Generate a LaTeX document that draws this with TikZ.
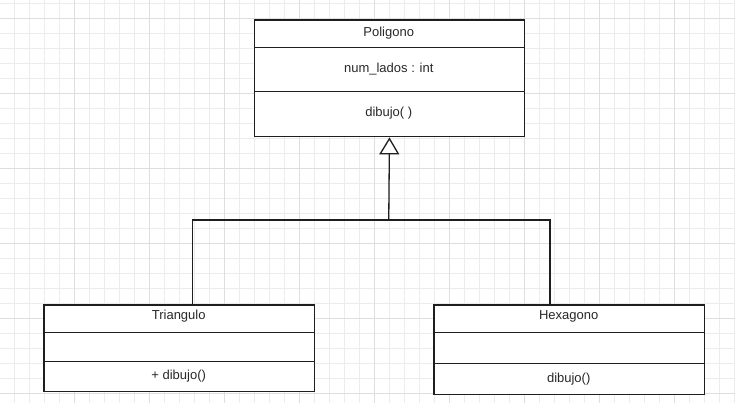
\documentclass[tikz,border=0pt]{standalone}
\usepackage{fontspec}
\setmainfont{Liberation Sans}
\usetikzlibrary{arrows.meta}
\definecolor{gridminor}{RGB}{236,236,236}
\definecolor{gridmajor}{RGB}{222,222,222}
\definecolor{ink}{RGB}{30,30,30}
\definecolor{txt}{RGB}{40,40,40}
\tikzset{
  classbox/.style={draw=ink, line width=1.4pt, fill=white, inner sep=0pt, anchor=north west},
  divider/.style={draw=ink, line width=1.3pt},
  label/.style={text=txt, font=\fontsize{13}{15}\selectfont, inner sep=0pt},
  conn/.style={draw=ink, line width=1.3pt},
  inherit/.style={conn, -{Triangle[open, length=17pt, width=20pt, fill=white]}},
}
\begin{document}
\begin{tikzpicture}[x=1pt,y=-1pt]
\useasboundingbox (0,0) rectangle (735,403);
\fill[white] (0,0) rectangle (735,403);
% grid
\foreach \k in {0,...,48} {\draw[gridminor, line width=1pt] ({14.3+15*\k},0) -- ({14.3+15*\k},403);}
\foreach \k in {0,...,26} {\draw[gridminor, line width=1pt] (0,{3.3+15*\k}) -- (735,{3.3+15*\k});}
\foreach \k in {0,...,9} {\draw[gridmajor, line width=1pt] ({74.3+75*\k},0) -- ({74.3+75*\k},403);}
\foreach \k in {0,...,5} {\draw[gridmajor, line width=1pt] (0,{18.3+75*\k}) -- (735,{18.3+75*\k});}

% Poligono
\node[classbox, minimum width=270.5pt, minimum height=116.5pt] (pol) at (253.5,19.5) {};
\draw[divider] (253.5,47.7) -- (524,47.7);
\draw[divider] (253.5,91.7) -- (524,91.7);
\node[label] (polname) at (388.75,33) {Poligono};
\node[label] (polattr) at (388.75,69) {num\_lados : int};
\node[label] (polop) at (388.75,113) {dibujo( )};

% Triangulo
\node[classbox, minimum width=270.7pt, minimum height=86.7pt] (tri) at (43.3,304.3) {};
\draw[divider] (43.3,332.7) -- (314,332.7);
\draw[divider] (43.3,361.7) -- (314,361.7);
\node[label] (triname) at (178.7,316.5) {Triangulo};
\node[label] (triop) at (178.7,376.5) {+ dibujo()};

% Hexagono
\node[classbox, minimum width=270.7pt, minimum height=89.7pt] (hex) at (433.3,304.3) {};
\draw[divider] (433.3,332.7) -- (704,332.7);
\draw[divider] (433.3,363.3) -- (704,363.3);
\node[label] (hexname) at (568.7,316.5) {Hexagono};
\node[label] (hexop) at (568.7,379.5) {dibujo()};

% connectors
\coordinate (ta) at (192.7,304.3);
\coordinate (tc) at (192.7,220);
\coordinate (ha) at (550,304.3);
\coordinate (hc) at (550,220);
\coordinate (j) at (388.75,220);
\draw[conn] (ta) -- (tc) -- (hc) -- (ha);
\draw[inherit] (j) -- (pol.south);
\end{tikzpicture}
\end{document}
